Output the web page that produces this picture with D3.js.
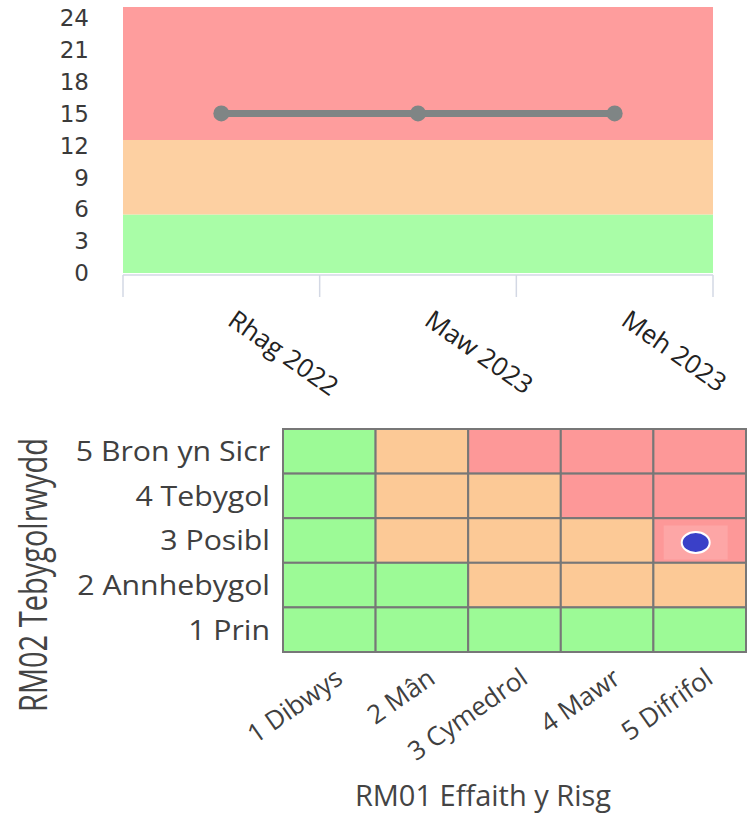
<!DOCTYPE html>
<html>
<head>
<meta charset="utf-8">
<script src="https://cdn.jsdelivr.net/npm/d3@7"></script>
<style>
  body { margin: 0; background: #fff; }
  svg { display: block; }
</style>
</head>
<body>
<div id="chart"></div>
<script>
// ---- data ----
const months = ["Rhag 2022", "Maw 2023", "Meh 2023"];
const scores = [15, 15, 15];
const scoreTicks = [0, 3, 6, 9, 12, 15, 18, 21, 24];
const bandLimits = [0, 5.5, 12.5, 25];          // green / amber / red bands
const bandColours = ["#a9fda7", "#fdd0a2", "#fe9d9d"];

const impactLabels = ["1 Dibwys", "2 Mân", "3 Cymedrol", "4 Mawr", "5 Difrifol"];
const impactValues = [1, 2, 3, 4, 5];
const likelihoodLabels = ["5 Bron yn Sicr", "4 Tebygol", "3 Posibl", "2 Annhebygol", "1 Prin"];
const likelihoodValues = [5, 4, 3, 2, 1];
const cellColours = ["#9cfa96", "#fcc996", "#fd9898"];
const current = { impact: 5, likelihood: 3 };

const svg = d3.select("#chart").append("svg")
  .attr("width", 748)
  .attr("height", 816);

// ---- top chart: score over time ----
const plot = { left: 123, right: 713, top: 7, bottom: 273 };
const x = d3.scaleBand().domain(months).range([plot.left, plot.right]).padding(0);
const y = d3.scaleLinear().domain([0, 25]).range([plot.bottom, plot.top]);

// coloured bands
svg.append("g").selectAll("rect")
  .data(bandColours)
  .join("rect")
  .attr("x", plot.left)
  .attr("width", plot.right - plot.left)
  .attr("y", (d, i) => y(bandLimits[i + 1]))
  .attr("height", (d, i) => y(bandLimits[i]) - y(bandLimits[i + 1]))
  .attr("fill", (d) => d);

// y tick labels
svg.append("g").selectAll("text")
  .data(scoreTicks)
  .join("text")
  .attr("x", 89)
  .attr("y", (d) => y(d))
  .attr("dy", "0.36em")
  .attr("text-anchor", "end")
  .style("font", "23px 'DejaVu Sans'")
  .attr("fill", "#3a3a3a")
  .text((d) => d);

// x axis: line + ticks at band edges
const edges = months.map((m) => x(m)).concat(x.range()[1]);
const xAxis = svg.append("g").attr("stroke", "#d3d8e4").attr("stroke-width", 1.5);
xAxis.append("line")
  .attr("x1", plot.left).attr("x2", plot.right)
  .attr("y1", plot.bottom + 2).attr("y2", plot.bottom + 2);
xAxis.selectAll(".tick")
  .data(edges)
  .join("line")
  .attr("class", "tick")
  .attr("x1", (d) => d).attr("x2", (d) => d)
  .attr("y1", plot.bottom + 2).attr("y2", plot.bottom + 24);

svg.append("g").selectAll("text")
  .data(months)
  .join("text")
  .attr("transform", (d) => `translate(${x(d) + x.bandwidth() / 2 + 5},324) rotate(35)`)
  .attr("text-anchor", "start")
  .style("font", "26px 'Open Sans'")
  .attr("fill", "#222")
  .text((d) => d);

// line + points
const line = d3.line()
  .x((d, i) => x(months[i]) + x.bandwidth() / 2)
  .y((d) => y(d));
svg.append("path")
  .datum(scores)
  .attr("d", line)
  .attr("fill", "none")
  .attr("stroke", "#7f8585")
  .attr("stroke-width", 7);
svg.append("g").selectAll("circle")
  .data(scores)
  .join("circle")
  .attr("cx", (d, i) => x(months[i]) + x.bandwidth() / 2)
  .attr("cy", (d) => y(d))
  .attr("r", 8)
  .attr("fill", "#7f8585");

// ---- bottom chart: risk matrix ----
const mx = d3.scaleBand().domain(impactValues).range([283, 746]);
const my = d3.scaleBand().domain(likelihoodValues).range([429, 652]);
const rating = d3.scaleThreshold().domain([5.5, 12.5]).range(cellColours);

const cells = likelihoodValues.flatMap((l) => impactValues.map((i) => ({ l, i })));
svg.append("g").selectAll("rect")
  .data(cells)
  .join("rect")
  .attr("x", (d) => mx(d.i))
  .attr("y", (d) => my(d.l))
  .attr("width", mx.bandwidth())
  .attr("height", my.bandwidth())
  .attr("fill", (d) => rating(d.i * d.l))
  .attr("stroke", "#777")
  .attr("stroke-width", 2);

// current position marker
const cx = mx(current.impact) + mx.bandwidth() / 2 - 4;
const cy = my(current.likelihood) + my.bandwidth() / 2 + 2;
svg.append("rect")
  .attr("x", cx - 32).attr("y", cy - 17)
  .attr("width", 64).attr("height", 34)
  .attr("fill", "#fda6a6");
svg.append("ellipse")
  .attr("cx", cx).attr("cy", cy)
  .attr("rx", 14).attr("ry", 10.5)
  .attr("fill", "#3a40c8")
  .attr("stroke", "#fff")
  .attr("stroke-width", 2);

// row labels
svg.append("g").selectAll("text")
  .data(likelihoodValues)
  .join("text")
  .attr("transform", (d) => `translate(270,${my(d) + my.bandwidth() / 2}) scale(1.08,1)`)
  .attr("dy", "0.35em")
  .attr("text-anchor", "end")
  .style("font", "28px 'Open Sans'")
  .attr("fill", "#404040")
  .text((d, i) => likelihoodLabels[i]);

// column labels
svg.append("g").selectAll("text")
  .data(impactValues)
  .join("text")
  .attr("transform", (d) => `translate(${mx(d) + mx.bandwidth() / 2 + 15},682) rotate(-35)`)
  .attr("text-anchor", "end")
  .style("font", "26px 'Open Sans'")
  .attr("fill", "#404040")
  .text((d, i) => impactLabels[i]);

// axis titles
svg.append("text")
  .attr("x", 483).attr("y", 806)
  .attr("text-anchor", "middle")
  .style("font", "29px 'Open Sans'")
  .attr("fill", "#444")
  .text("RM01 Effaith y Risg");

svg.append("text")
  .attr("transform", "translate(47,575) scale(1.35,1) rotate(-90)")
  .attr("text-anchor", "middle")
  .style("font", "29px 'Open Sans'")
  .attr("fill", "#444")
  .text("RM02 Tebygolrwydd");
</script>
</body>
</html>
